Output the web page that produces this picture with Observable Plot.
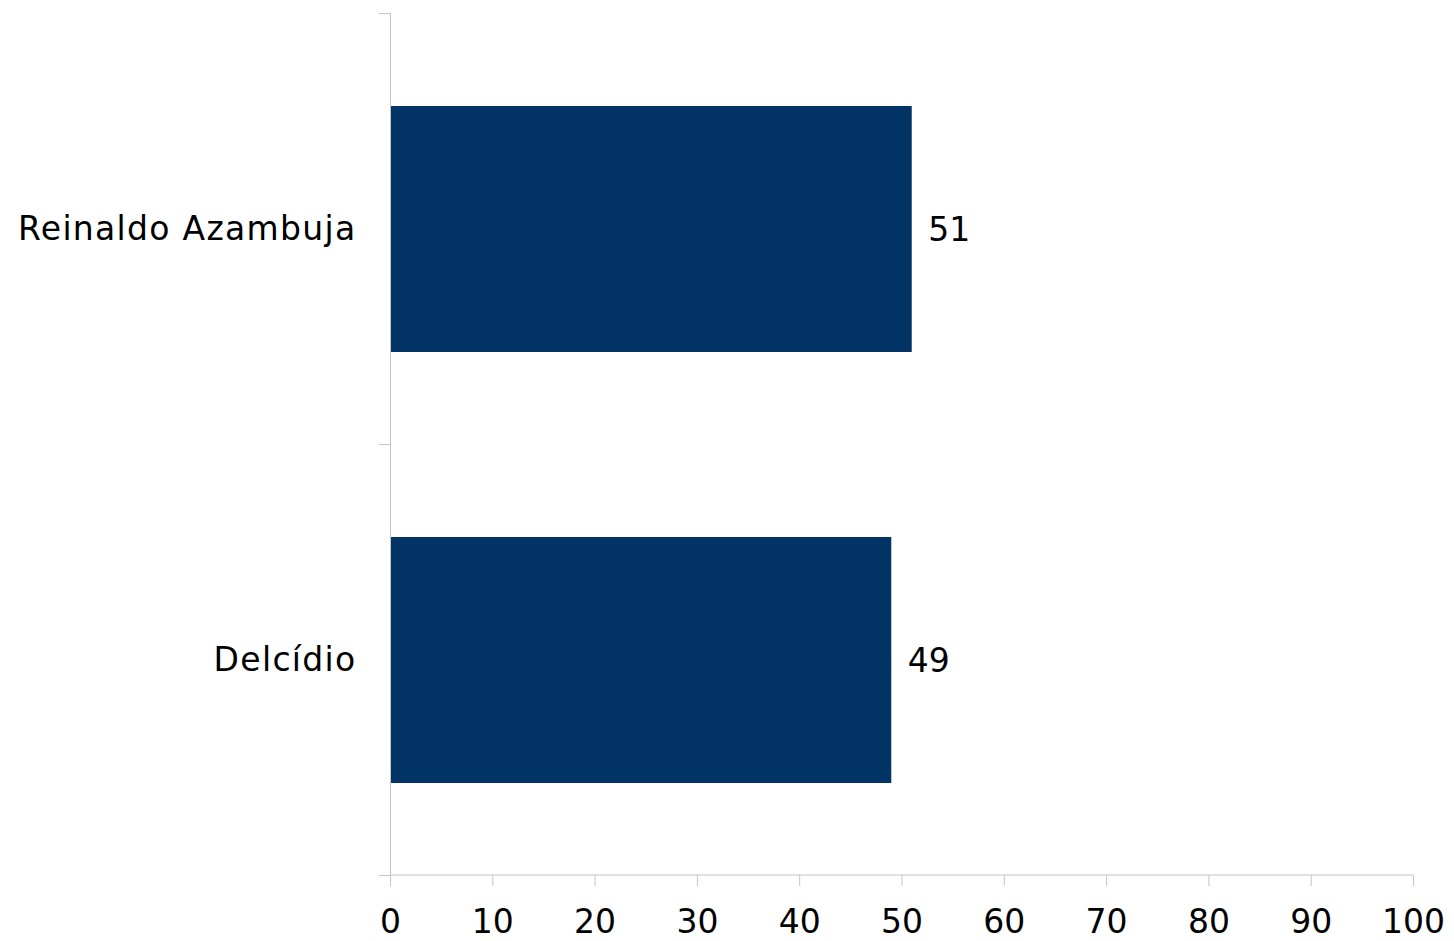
<!DOCTYPE html>
<html>
<head>
<meta charset="utf-8">
<script src="https://cdn.jsdelivr.net/npm/d3@7"></script>
<script src="https://cdn.jsdelivr.net/npm/@observablehq/plot@0.6"></script>
<style>
  html, body { margin: 0; padding: 0; background: #ffffff; }
  #chart svg { display: block; }
  g[aria-label="y-axis tick label"] text { letter-spacing: 1.3px; }
</style>
</head>
<body>
<div id="chart"></div>
<script>
const candidates = ["Reinaldo Azambuja", "Delcídio"];
const percentages = [51, 49];
const xTicks = [0, 10, 20, 30, 40, 50, 60, 70, 80, 90, 100];

const data = candidates.map((c, i) => ({candidate: c, value: percentages[i]}));

const axisColor = "#c4c4c4";
const fontFamily = "'DejaVu Sans', Verdana, sans-serif";

// tick marks on the category axis, drawn at band boundaries derived from the y scale
function bandBoundaryTicks(index, scales, values, dimensions) {
  const y = scales.y;
  const domain = y.domain();
  const bw = y.bandwidth ? y.bandwidth() : 0;
  const centers = domain.map(d => y(d) + bw / 2);
  const step = centers.length > 1 ? centers[1] - centers[0] : bw;
  const bounds = centers.map(c => c - step / 2).concat([centers[centers.length - 1] + step / 2]);
  const x0 = scales.x(0);
  const g = d3.create("svg:g");
  g.selectAll("line").data(bounds).join("line")
    .attr("x1", x0 - 11).attr("x2", x0)
    .attr("y1", d => d).attr("y2", d => d)
    .attr("stroke", axisColor).attr("stroke-width", 1);
  return g.node();
}

// x-axis baseline along the bottom of the frame, from the x scale
function xBaseline(index, scales, values, dimensions) {
  const yb = dimensions.height - dimensions.marginBottom;
  const g = d3.create("svg:g");
  g.append("line")
    .attr("x1", scales.x(0)).attr("x2", scales.x(100))
    .attr("y1", yb).attr("y2", yb)
    .attr("stroke", axisColor).attr("stroke-width", 1);
  return g.node();
}

const chart = Plot.plot({
  width: 1454,
  height: 941,
  marginLeft: 390,
  marginRight: 41,
  marginTop: 13,
  marginBottom: 66,
  style: {fontFamily, fontSize: "33px", color: "#000", background: "#fff"},
  x: {domain: [0, 100], ticks: xTicks},
  y: {domain: candidates, paddingInner: 0.43, paddingOuter: 0.215},
  marks: [
    Plot.barX(data, {y: "candidate", x: "value", fill: "#023466"}),
    Plot.ruleX([0], {stroke: axisColor, strokeWidth: 1}),
    xBaseline,
    Plot.axisX({ticks: xTicks, tickSize: 11, tickPadding: 23, stroke: axisColor, fill: "#000", fontSize: 33, label: null, tickFormat: d => String(d)}),
    Plot.axisY({tickSize: 0, tickPadding: 34, fill: "#000", fontSize: 33, label: null}),
    bandBoundaryTicks,
    Plot.text(data, {y: "candidate", x: "value", text: d => String(d.value), textAnchor: "start", dx: 16, dy: 1, fill: "#000", fontSize: 33})
  ]
});

document.getElementById("chart").appendChild(chart);
</script>
</body>
</html>
